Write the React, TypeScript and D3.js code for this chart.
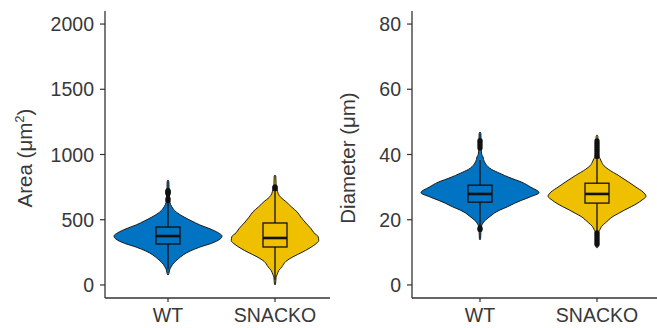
import React from "react";
import * as d3 from "d3";

const categories = ["WT", "SNACKO"];
const fills = ["#0073C2", "#EFC000"];

// Area panel
const areaTicks = [0, 500, 1000, 1500, 2000];
const areaTitle = "Area (μm";
const wtAreaDensity: [number, number][] = [
  [805, 0], [795, 0.015], [720, 0.02], [650, 0.03], [615, 0.05], [600, 0.07], [560, 0.15],
  [520, 0.3], [490, 0.44], [460, 0.59], [430, 0.78], [400, 0.93], [375, 1.0], [350, 0.96],
  [320, 0.81], [290, 0.59], [260, 0.41], [230, 0.28], [200, 0.19], [170, 0.11], [140, 0.06],
  [115, 0.03], [95, 0.02], [80, 0.01], [77, 0],
];
const koAreaDensity: [number, number][] = [
  [843, 0], [835, 0.015], [760, 0.02], [740, 0.03], [730, 0.04], [700, 0.06], [670, 0.11],
  [640, 0.2], [600, 0.3], [560, 0.41], [520, 0.48], [475, 0.57], [430, 0.67], [400, 0.72],
  [370, 0.8], [340, 0.81], [310, 0.74], [280, 0.63], [250, 0.5], [215, 0.33], [180, 0.2],
  [140, 0.13], [110, 0.07], [80, 0.04], [60, 0.02], [30, 0.015], [5, 0.01], [0, 0],
];
const areaLow = [120, 40];
const areaQ1 = [314, 291];
const areaMedian = [375, 360];
const areaQ3 = [444, 475];
const areaHigh = [630, 735];
const wtAreaOutliers = [648, 662, 700, 706, 712, 718, 724];
const koAreaOutliers = [738, 746, 752];

// Diameter panel
const diamTicks = [0, 20, 40, 60, 80];
const diamTitle = "Diameter (μm)";
const wtDiamDensity: [number, number][] = [
  [46.9, 0], [46.5, 0.015], [42, 0.02], [40, 0.03], [39.3, 0.05], [38.5, 0.06], [37, 0.1],
  [35.5, 0.19], [34.2, 0.34], [33, 0.49], [31.5, 0.71], [30, 0.86], [28.3, 1.0], [27, 0.85],
  [26, 0.71], [25, 0.58], [24, 0.47], [23, 0.34], [22, 0.24], [21, 0.17], [20, 0.1], [19, 0.05],
  [18, 0.025], [16, 0.015], [14.2, 0.01], [13.8, 0],
];
const koDiamDensity: [number, number][] = [
  [46, 0], [45.5, 0.015], [41, 0.02], [39.5, 0.03], [38.8, 0.05], [38, 0.07], [36.5, 0.12],
  [35.5, 0.19], [33.5, 0.37], [31.5, 0.54], [30, 0.66], [28.5, 0.78], [27.2, 0.83], [26, 0.76],
  [25, 0.68], [24, 0.58], [23, 0.47], [22, 0.37], [21, 0.27], [20, 0.2], [19, 0.14], [18, 0.08],
  [17, 0.05], [16.3, 0.03], [13, 0.02], [11.6, 0.015], [11.3, 0],
];
const diamLow = [18, 16.5];
const diamQ1 = [25.4, 25.1];
const diamMedian = [27.9, 27.9];
const diamQ3 = [30.6, 31.2];
const diamHigh = [38.3, 38.8];
const wtDiamOutliers = [17.0, 17.4, 42.0, 42.6, 43.2, 43.8, 44.3];
const koDiamOutliers = [39.4, 40.0, 40.6, 41.2, 41.8, 42.4, 43.0, 43.6, 44.2, 16.0, 15.4, 14.8, 14.2, 13.6, 13.0, 12.5];

const FONT = "Liberation Sans, Arial, sans-serif";
const TEXT = "#383838";

type PanelProps = {
  axisX: number;
  axisEnd: number;
  catRange: [number, number];
  domain: [number, number];
  ticks: number[];
  maxHalf: number;
  densities: [number, number][][];
  low: number[];
  q1: number[];
  med: number[];
  q3: number[];
  high: number[];
  outliers: number[][];
  title: React.ReactNode;
  titleX: number;
};

function Panel(p: PanelProps) {
  const y = d3.scaleLinear().domain(p.domain).range([298, 11]);
  const x = d3.scalePoint<string>().domain(categories).range(p.catRange);
  const w = d3.scaleLinear().domain([0, 1]).range([0, p.maxHalf]);
  const boxHalf = 12;
  return (
    <g>
      {categories.map((c, i) => {
        const cx = x(c)!;
        const area = d3
          .area<[number, number]>()
          .y((d) => y(d[0]))
          .x0((d) => cx - w(d[1]))
          .x1((d) => cx + w(d[1]))
          .curve(d3.curveMonotoneY);
        return (
          <g key={c}>
            <path d={area(p.densities[i]) || ""} fill={fills[i]} stroke="#1a1a1a" strokeWidth={1} />
            <line x1={cx} x2={cx} y1={y(p.low[i])} y2={y(p.high[i])} stroke="#111" strokeWidth={1.3} />
            <rect
              x={cx - boxHalf}
              width={boxHalf * 2}
              y={y(p.q3[i])}
              height={y(p.q1[i]) - y(p.q3[i])}
              fill={fills[i]}
              stroke="#111"
              strokeWidth={1.3}
            />
            <line x1={cx - boxHalf} x2={cx + boxHalf} y1={y(p.med[i])} y2={y(p.med[i])} stroke="#111" strokeWidth={2.6} />
            {p.outliers[i].map((v, j) => (
              <circle key={j} cx={cx} cy={y(v)} r={2.6} fill="#111" />
            ))}
          </g>
        );
      })}
      <line x1={p.axisX} x2={p.axisX} y1={11} y2={298} stroke="#333" strokeWidth={1.3} />
      <line x1={p.axisX} x2={p.axisEnd} y1={298} y2={298} stroke="#333" strokeWidth={1.3} />
      {p.ticks.map((t) => (
        <g key={t}>
          <line x1={p.axisX - 5} x2={p.axisX} y1={y(t)} y2={y(t)} stroke="#333" strokeWidth={1.2} />
          <text x={p.axisX - 11} y={y(t) + 7} textAnchor="end" fontSize={19.5} fill={TEXT} fontFamily={FONT}>
            {t}
          </text>
        </g>
      ))}
      {categories.map((c) => (
        <g key={c}>
          <line x1={x(c)} x2={x(c)} y1={298} y2={302} stroke="#333" strokeWidth={1.2} />
          <text x={x(c)} y={322} textAnchor="middle" fontSize={19.5} fill={TEXT} fontFamily={FONT}>
            {c}
          </text>
        </g>
      ))}
      <text
        transform={`translate(${p.titleX},158) rotate(-90)`}
        textAnchor="middle"
        fontSize={20.5}
        fill={TEXT}
        fontFamily={FONT}
      >
        {p.title}
      </text>
    </g>
  );
}

export default function App() {
  return (
    <svg width={657} height={328} style={{ position: "absolute", left: 0, top: 0, background: "#fff" }}>
      <rect width={657} height={328} fill="#fff" />
      <Panel
        axisX={105}
        axisEnd={330}
        catRange={[168, 275]}
        domain={[-100, 2100]}
        ticks={areaTicks}
        maxHalf={54}
        densities={[wtAreaDensity, koAreaDensity]}
        low={areaLow}
        q1={areaQ1}
        med={areaMedian}
        q3={areaQ3}
        high={areaHigh}
        outliers={[wtAreaOutliers, koAreaOutliers]}
        title={
          <>
            {areaTitle}
            <tspan fontSize={13} dy={-8}>2</tspan>
            <tspan dy={8}>)</tspan>
          </>
        }
        titleX={32}
      />
      <Panel
        axisX={412}
        axisEnd={657}
        catRange={[480, 597]}
        domain={[-4, 84]}
        ticks={diamTicks}
        maxHalf={59}
        densities={[wtDiamDensity, koDiamDensity]}
        low={diamLow}
        q1={diamQ1}
        med={diamMedian}
        q3={diamQ3}
        high={diamHigh}
        outliers={[wtDiamOutliers, koDiamOutliers]}
        title={diamTitle}
        titleX={355}
      />
    </svg>
  );
}
